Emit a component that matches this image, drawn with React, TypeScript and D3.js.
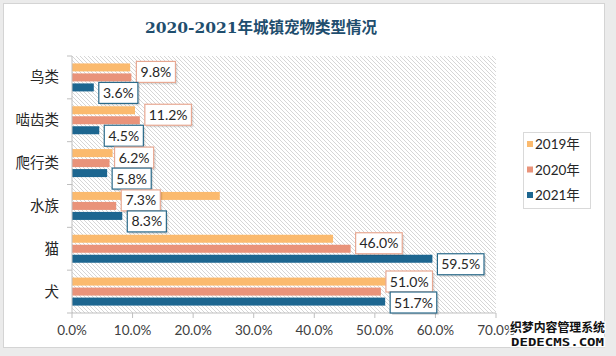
import React from "react";
import * as d3 from "d3";

const categories = ["鸟类", "啮齿类", "爬行类", "水族", "猫", "犬"];
const seriesNames = ["2019年", "2020年", "2021年"];
const values2019 = [9.6, 10.4, 6.7, 24.4, 43.1, 52.6];
const values2020 = [9.8, 11.2, 6.2, 7.3, 46.0, 51.0];
const values2021 = [3.6, 4.5, 5.8, 8.3, 59.5, 51.7];
const xTicks = [0, 10, 20, 30, 40, 50, 60, 70];
const labelledSeries = [1, 2];

const colors = ["#FBBA6E", "#E9937A", "#1D6690"];
const labelBorders = ["#F2C99A", "#E8A892", "#2A6A8A"];

const W = 616;
const H = 356;

function textW(s: string) {
  let w = 0;
  for (const c of s) {
    if (c === ".") w += 3.6;
    else if (c === "%") w += 11.5;
    else w += 7.5;
  }
  return w;
}

export default function App() {
  const x = d3.scaleLinear().domain([0, 70]).range([72, 496]);
  const y = d3.scaleBand<string>().domain(categories).range([56, 313]);
  const bw = y.bandwidth();
  const series = [values2019, values2020, values2021];
  const barH = 8;
  const step = 10;
  const barY = (ci: number, si: number) => {
    const c = (y(categories[ci]) as number) + bw / 2;
    return c - barH / 2 + (si - 1) * step;
  };

  const labelH = 21;
  const labels: { text: string; x: number; cy: number; w: number; si: number }[] = [];
  categories.forEach((cat, ci) => {
    const group = labelledSeries.map((si) => {
      const v = series[si][ci];
      const text = v.toFixed(1) + "%";
      return { text, x: x(v) + 5, cy: barY(ci, si) + barH / 2, w: textW(text) + 9, si };
    });
    for (let k = 1; k < group.length; k++) {
      const a = group[k - 1];
      const b = group[k];
      const overlap = a.cy + labelH - b.cy;
      if (overlap > 0) {
        a.cy -= overlap / 2;
        b.cy += overlap / 2;
      }
    }
    const last = group[group.length - 1];
    if (last.cy + labelH / 2 > 313) {
      const d = last.cy + labelH / 2 - 313;
      group.forEach((g) => (g.cy -= d));
    }
    labels.push(...group);
  });

  const bandEdges = [...categories.map((c) => y(c) as number), 313];

  return (
    <svg width={W} height={H} style={{ position: "absolute", left: 0, top: 0 }}>
      <defs>
        <pattern id="hatch" patternUnits="userSpaceOnUse" width={4} height={4}>
          <rect width={4} height={4} fill="#ffffff" />
          <path d="M-1,-1 L5,5 M-1,3 L1,5 M3,-1 L5,1" stroke="#d6d6d6" strokeWidth={1} />
        </pattern>
      </defs>
      <rect x={0} y={0} width={W} height={H} fill="#ebebeb" />
      <rect x={3.5} y={3.5} width={601} height={344} fill="#ffffff" stroke="#d4d4d4" />
      <text
        x={261}
        y={33}
        textAnchor="middle"
        fontFamily="'DejaVu Serif', 'Noto Sans CJK SC'"
        fontWeight="bold"
        fontSize={15.5}
        fill="#1F4E6E"
      >
        2020-2021年城镇宠物类型情况
      </text>

      <rect x={72} y={56} width={424} height={257} fill="url(#hatch)" />

      {series.map((vals, si) =>
        vals.map((v, ci) => (
          <rect
            key={`b${si}-${ci}`}
            x={x(0)}
            y={barY(ci, si)}
            width={x(v) - x(0)}
            height={barH}
            fill={colors[si]}
          />
        ))
      )}

      <line x1={72} x2={72} y1={56} y2={313} stroke="#bfbfbf" />
      {bandEdges.map((e, i) => (
        <line key={`yt${i}`} x1={67} x2={72} y1={e} y2={e} stroke="#bfbfbf" />
      ))}
      <line x1={72} x2={496} y1={313} y2={313} stroke="#bfbfbf" />
      {xTicks.map((t) => (
        <g key={`xt${t}`}>
          <line x1={x(t)} x2={x(t)} y1={313} y2={318} stroke="#bfbfbf" />
          <text
            x={x(t)}
            y={335}
            textAnchor="middle"
            fontFamily="Lato, 'Noto Sans'"
            fontSize={13.5}
            fill="#404040"
          >
            {t.toFixed(1) + "%"}
          </text>
        </g>
      ))}
      {categories.map((c) => (
        <text
          key={c}
          x={59}
          y={(y(c) as number) + bw / 2 + 5}
          textAnchor="end"
          fontFamily="'Noto Sans CJK SC'"
          fontSize={14.5}
          fill="#262626"
        >
          {c}
        </text>
      ))}

      {labels.map((l, i) => (
        <g key={`l${i}`}>
          <rect x={l.x + 2} y={l.cy - labelH / 2 + 2} width={l.w} height={labelH} fill="#000" opacity={0.12} />
          <rect
            x={l.x}
            y={l.cy - labelH / 2}
            width={l.w}
            height={labelH}
            fill="#ffffff"
            stroke={labelBorders[l.si]}
            strokeWidth={1.2}
          />
          <text
            x={l.x + l.w / 2}
            y={l.cy + 5}
            textAnchor="middle"
            fontFamily="Lato, 'Noto Sans'"
            fontSize={14}
            fill="#262626"
          >
            {l.text}
          </text>
        </g>
      ))}

      <rect x={523.5} y={132.5} width={67} height={76} fill="#ffffff" stroke="#d9d9d9" />
      {seriesNames.map((s, i) => (
        <g key={s}>
          <rect x={527} y={141 + i * 25.5} width={6} height={6} fill={colors[i]} />
          <text
            x={535}
            y={149 + i * 25.5}
            fontFamily="Lato, 'Noto Sans CJK SC'"
            fontSize={13.5}
            fill="#262626"
          >
            {s}
          </text>
        </g>
      ))}

      <g fontFamily="'Noto Sans CJK SC'" fontWeight="bold" fill="#111" stroke="#fff" strokeWidth={2.5} paintOrder="stroke">
        <text x={510} y={332} fontSize={12.5} textLength={95} lengthAdjust="spacingAndGlyphs">
          织梦内容管理系统
        </text>
        <text x={511} y={346} fontSize={11} textLength={93} lengthAdjust="spacingAndGlyphs" fontFamily="'DejaVu Sans Mono'">
          DEDECMS.COM
        </text>
      </g>
    </svg>
  );
}
